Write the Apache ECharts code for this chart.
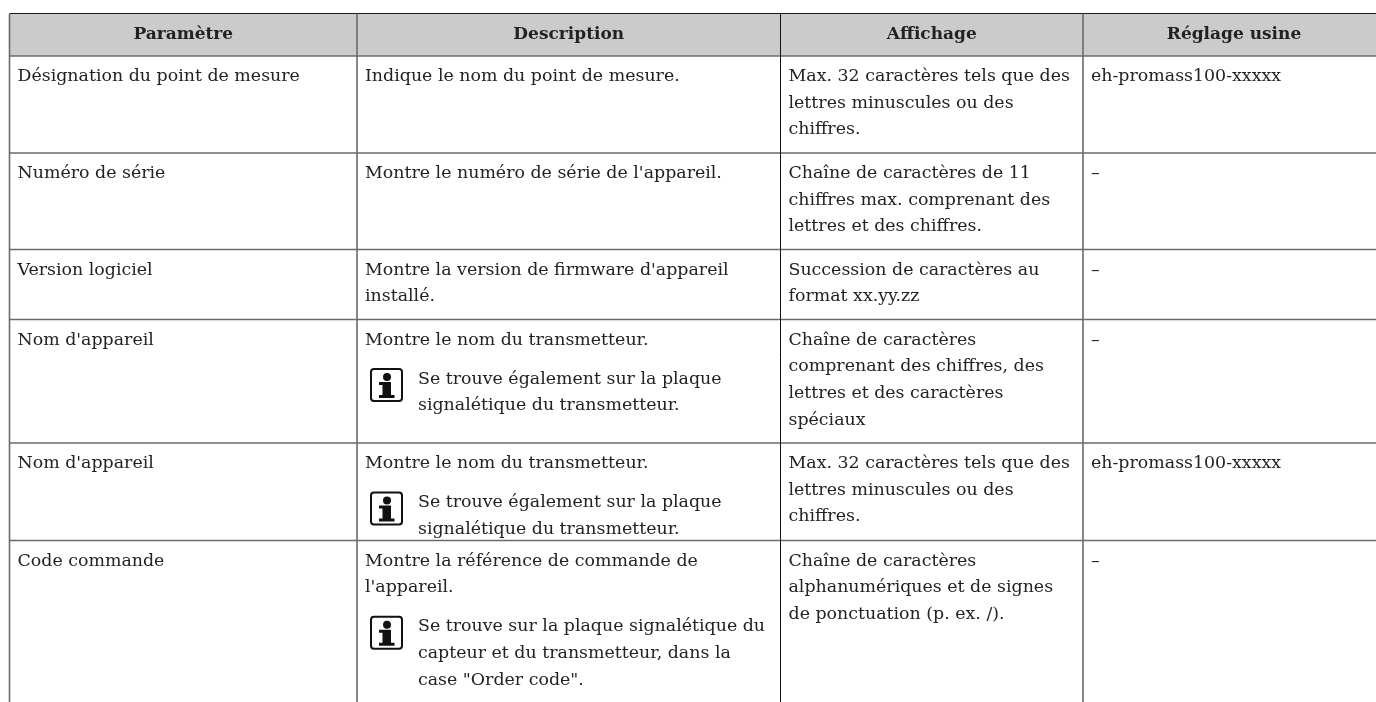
<!DOCTYPE html>
<html><head><meta charset="utf-8">
<style>html,body{margin:0;padding:0;background:#fff}#c{width:1376px;height:702px}</style>
<script src="https://cdn.jsdelivr.net/npm/echarts@6/dist/echarts.min.js"></script>
</head><body><div id="c"></div>
<script>
const headers = ['Paramètre','Description','Affichage','Réglage usine'];
const parametres = ['Désignation du point de mesure','Numéro de série','Version logiciel',"Nom d'appareil","Nom d'appareil",'Code commande'];
const descriptions = [
 [['Indique le nom du point de mesure.']],
 [["Montre le numéro de série de l'appareil."]],
 [["Montre la version de firmware d'appareil",'installé.']],
 [['Montre le nom du transmetteur.'],['!','Se trouve également sur la plaque','signalétique du transmetteur.']],
 [['Montre le nom du transmetteur.'],['!','Se trouve également sur la plaque','signalétique du transmetteur.']],
 [['Montre la référence de commande de',"l'appareil."],['!','Se trouve sur la plaque signalétique du','capteur et du transmetteur, dans la','case "Order code".']]
];
const affichages = [
 [['Max. 32 caractères tels que des','lettres minuscules ou des','chiffres.']],
 [['Chaîne de caractères de 11','chiffres max. comprenant des','lettres et des chiffres.']],
 [['Succession de caractères au','format xx.yy.zz']],
 [['Chaîne de caractères','comprenant des chiffres, des','lettres et des caractères','spéciaux']],
 [['Max. 32 caractères tels que des','lettres minuscules ou des','chiffres.']],
 [['Chaîne de caractères','alphanumériques et de signes','de ponctuation (p. ex. /).']]
];
const reglages = ['eh-promass100-xxxxx','–','–','–','eh-promass100-xxxxx','–'];
const colEdges = [9.5,357,780.5,1083,1385];
const rowEdges = [13.5,56,153,249.5,319.5,443,540.5,760];

const FONT='"DejaVu Serif"', SIZE=17.4, HSIZE=17, INK='#222';
const LH=26.7, GAP=12.3, PAD=8, NOTE=53;
function txt(x,y,s,o){o=o||{};return {type:'text',x:x,y:y,style:{text:s,fill:INK,fontFamily:FONT,fontSize:o.b?HSIZE:SIZE,fontWeight:o.b?'bold':'normal',align:o.a||'left',verticalAlign:'middle'}};}
function cellLines(col,row,paras){
  const out=[]; let y=rowEdges[row+1]+20.5;
  const x0=colEdges[col]+PAD;
  paras.forEach(p=>{
    let x=x0; let ls=p;
    if(p[0]==='!'){ ls=p.slice(1); x=x0+NOTE;
      const ix=x0+6, iy=y-10;
      out.push({type:'rect',shape:{x:ix,y:iy,width:31,height:32,r:3},style:{fill:'#fff',stroke:'#111',lineWidth:2}});
      out.push({type:'circle',shape:{cx:ix+16,cy:iy+8,r:4},style:{fill:'#111'}});
      out.push({type:'polygon',shape:{points:[[ix+8,iy+13],[ix+20,iy+13],[ix+20,iy+26],[ix+23.5,iy+26],[ix+23.5,iy+29],[ix+8,iy+29],[ix+8,iy+26],[ix+11.5,iy+26],[ix+11.5,iy+16],[ix+8,iy+16]]},style:{fill:'#111'}});
    }
    ls.forEach(l=>{out.push(txt(x,y,l)); y+=LH;});
    y+=GAP;
  });
  return out;
}
const rows=parametres.map((p,i)=>[i]);
const chart=echarts.init(document.getElementById('c'));
chart.setOption({
  animation:false,
  grid:{left:0,right:0,top:0,bottom:0},
  xAxis:{type:'value',min:0,max:1376,show:false},
  yAxis:{type:'value',min:0,max:702,inverse:true,show:false},
  series:[
   {type:'custom',coordinateSystem:'cartesian2d',data:[[0]],silent:true,clip:false,
    renderItem:function(){
      const ch=[];
      ch.push({type:'rect',shape:{x:colEdges[0],y:rowEdges[0],width:1376,height:rowEdges[1]-rowEdges[0]},style:{fill:'#cbcbcb'}});
      headers.forEach((h,c)=>ch.push(txt((colEdges[c]+colEdges[c+1])/2,35,h,{b:1,a:'center'})));
      rowEdges.forEach((y,i)=>{ if(i===rowEdges.length-1)return;
        ch.push({type:'line',shape:{x1:colEdges[0],y1:y,x2:1376,y2:y},style:{stroke:i===0?'#1a1a1a':'#6a6a6a',lineWidth:i===0?1.2:1.5}});});
      colEdges.forEach((x,i)=>{ if(i===colEdges.length-1)return;
        ch.push({type:'line',shape:{x1:x,y1:rowEdges[0],x2:x,y2:702},style:{stroke:i===2?'#111':'#6a6a6a',lineWidth:i===2?1:1.6}});});
      return {type:'group',children:ch};
    }},
   {type:'custom',coordinateSystem:'cartesian2d',data:rows,silent:true,clip:false,
    renderItem:function(params,api){
      const r=api.value(0); let ch=[];
      ch=ch.concat(cellLines(0,r,[[parametres[r]]]));
      ch=ch.concat(cellLines(1,r,descriptions[r]));
      ch=ch.concat(cellLines(2,r,affichages[r]));
      ch=ch.concat(cellLines(3,r,[[reglages[r]]]));
      return {type:'group',children:ch};
    }}
  ]
});
</script></body></html>
